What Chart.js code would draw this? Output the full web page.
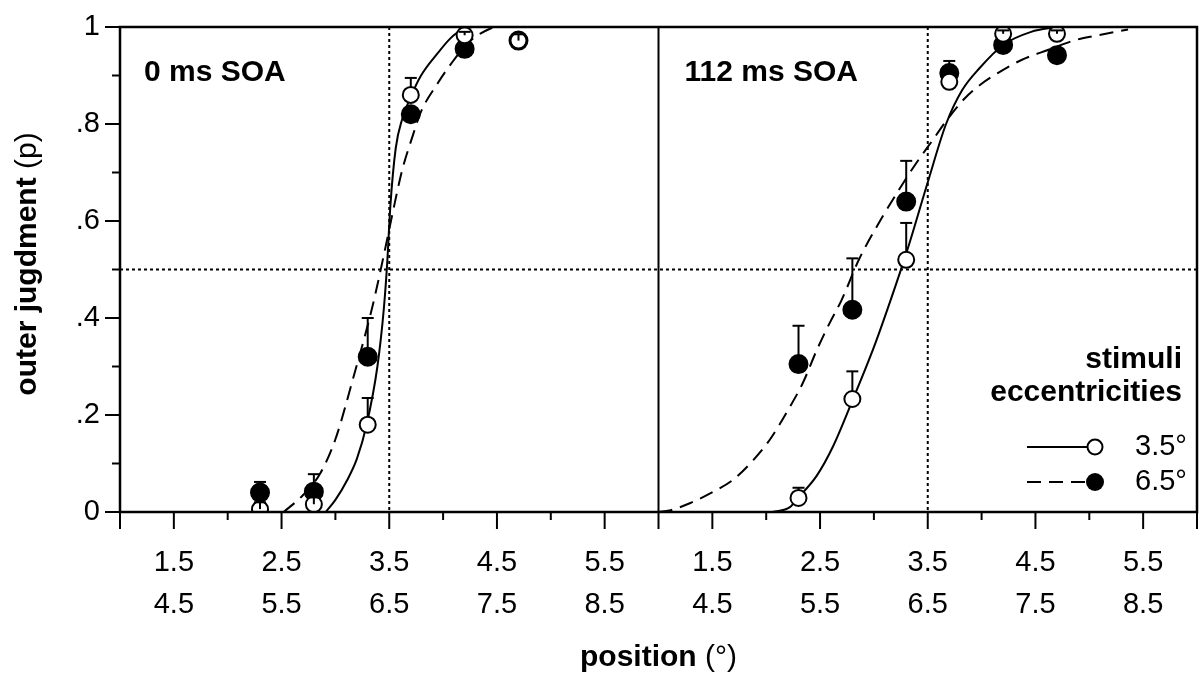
<!DOCTYPE html>
<html>
<head>
<meta charset="utf-8">
<script src="https://cdn.jsdelivr.net/npm/chart.js@4.4.1/dist/chart.umd.min.js"></script>
<style>
html, body { margin: 0; padding: 0; background: #fff; }
#wrap { width: 1199px; height: 674px; }
</style>
</head>
<body>
<div id="wrap"><canvas id="c" width="1199" height="674"></canvas></div>
<script>
var panelTitles = ["0 ms SOA", "112 ms SOA"];
var tickValues = [1.5, 2.5, 3.5, 4.5, 5.5, 6.5, 7.5, 8.5, 9.5, 10.5];
var tickTop = ["1.5", "2.5", "3.5", "4.5", "5.5", "1.5", "2.5", "3.5", "4.5", "5.5"];
var tickBottom = ["4.5", "5.5", "6.5", "7.5", "8.5", "4.5", "5.5", "6.5", "7.5", "8.5"];
var yTickValues = [0, 0.2, 0.4, 0.6, 0.8, 1];
var yTickLabels = ["0", ".2", ".4", ".6", ".8", "1"];
var seriesNames = ["3.5°", "6.5°"];

// positions of the measured points, same for both panels
var positions = [2.3, 2.8, 3.3, 3.7, 4.2, 4.7];
var panelShift = 5; // second panel sits 5 units to the right on the shared axis

// 0 ms SOA
var open0 = [0.006, 0.016, 0.18, 0.86, 0.983, 0.972];
var open0Err = [0.02, 0.03, 0.235, 0.895, 0.99, 0.985];
var filled0 = [0.04, 0.042, 0.32, 0.82, 0.955, 0.972];
var filled0Err = [0.062, 0.078, 0.40, 0.82, 0.955, 0.972];

// 112 ms SOA
var open1 = [0.029, 0.233, 0.52, 0.887, 0.986, 0.986];
var open1Err = [0.05, 0.29, 0.596, 0.887, 0.993, 0.993];
var filled1 = [0.305, 0.417, 0.64, 0.905, 0.963, 0.942];
var filled1Err = [0.384, 0.523, 0.724, 0.93, 0.963, 0.942];

// fitted curves (panel-local positions)
var solid0X = [2.91, 3.0, 3.11, 3.2, 3.29, 3.39, 3.45, 3.48, 3.51, 3.56, 3.62, 3.70, 3.79, 3.95, 4.07, 4.17, 4.27];
var solid0Y = [0, 0.025, 0.066, 0.11, 0.18, 0.30, 0.42, 0.51, 0.63, 0.75, 0.81, 0.856, 0.898, 0.946, 0.977, 0.994, 1.0];
var dash0X = [2.52, 2.7, 2.86, 3.0, 3.17, 3.34, 3.45, 3.53, 3.62, 3.72, 3.79, 3.95, 4.10, 4.23, 4.35, 4.47];
var dash0Y = [0, 0.035, 0.08, 0.15, 0.28, 0.42, 0.53, 0.615, 0.705, 0.777, 0.823, 0.884, 0.932, 0.967, 0.987, 1.0];
var solid1X = [2.06, 2.22, 2.3, 2.47, 2.62, 2.81, 3.0, 3.16, 3.31, 3.5, 3.67, 3.82, 3.98, 4.2, 4.46, 4.7];
var solid1Y = [0, 0.01, 0.03, 0.075, 0.135, 0.235, 0.34, 0.44, 0.54, 0.68, 0.80, 0.87, 0.915, 0.963, 0.99, 1.0];
var dash1X = [1.0, 1.1, 1.29, 1.51, 1.69, 1.88, 2.03, 2.22, 2.34, 2.47, 2.59, 2.70, 2.86, 3.07, 3.22, 3.38, 3.54, 3.69, 3.84, 4.0, 4.15, 4.37, 4.62, 4.87, 5.08, 5.36];
var dash1Y = [0, 0.003, 0.018, 0.042, 0.066, 0.107, 0.148, 0.217, 0.266, 0.334, 0.39, 0.437, 0.52, 0.605, 0.66, 0.715, 0.765, 0.812, 0.852, 0.883, 0.905, 0.932, 0.953, 0.973, 0.983, 0.995];

var guideX = [3.5, 3.5 + panelShift];
var guideY = 0.5;

var FONT = "'Liberation Sans', Arial, sans-serif";

function pts(xs, ys, shift) {
  return xs.map(function (x, i) { return { x: x + shift, y: ys[i] }; });
}

function curve(xs, ys, shift, dashed) {
  return {
    data: pts(xs, ys, shift),
    showLine: true,
    pointRadius: 0,
    borderColor: '#000',
    borderWidth: 2,
    borderDash: dashed ? [14, 8] : [],
    cubicInterpolationMode: 'monotone',
    fill: false
  };
}

function marks(ys, shift, open, err) {
  return {
    data: pts(positions, ys, shift),
    showLine: false,
    pointStyle: 'circle',
    pointRadius: open ? 8 : 9,
    pointBackgroundColor: open ? '#fff' : '#000',
    pointBorderColor: '#000',
    pointBorderWidth: 2,
    errTop: err
  };
}

function textParts(ctx, parts, x, y) {
  var w = 0;
  parts.forEach(function (p) { ctx.font = p[1] + ' 30px ' + FONT; w += ctx.measureText(p[0]).width; });
  var cx = x - w / 2;
  parts.forEach(function (p) {
    ctx.font = p[1] + ' 30px ' + FONT;
    ctx.fillText(p[0], cx, y);
    cx += ctx.measureText(p[0]).width;
  });
}

var extras = {
  id: 'extras',
  afterLayout: function (chart) {
    // stretch the plot to the right edge of the canvas
    var a = chart.chartArea, xs = chart.scales.x;
    var right = chart.width - 2;
    a.right = right;
    a.width = right - a.left;
    xs.right = right;
    xs.width = right - xs.left;
    xs.configure();
  },
  beforeDatasetsDraw: function (chart) {
    var ctx = chart.ctx, a = chart.chartArea, xs = chart.scales.x, ys = chart.scales.y;
    ctx.save();
    ctx.strokeStyle = '#000';
    ctx.lineWidth = 2;
    ctx.setLineDash([3, 3]);
    guideX.forEach(function (v) {
      var px = xs.getPixelForValue(v);
      ctx.beginPath(); ctx.moveTo(px, a.top); ctx.lineTo(px, a.bottom); ctx.stroke();
    });
    var py = ys.getPixelForValue(guideY);
    ctx.beginPath(); ctx.moveTo(a.left, py); ctx.lineTo(a.right, py); ctx.stroke();
    ctx.restore();
  },
  afterDatasetsDraw: function (chart) {
    var ctx = chart.ctx, a = chart.chartArea, xs = chart.scales.x, ys = chart.scales.y;
    ctx.save();
    ctx.strokeStyle = '#000';
    ctx.fillStyle = '#000';
    ctx.lineWidth = 2;
    // error bars
    chart.data.datasets.forEach(function (ds) {
      if (!ds.errTop) return;
      var r = ds.pointRadius;
      ds.data.forEach(function (p, i) {
        var top = ds.errTop[i];
        if (top <= p.y) return;
        var px = xs.getPixelForValue(p.x), pc = ys.getPixelForValue(p.y), pt = ys.getPixelForValue(top);
        var from = (pc - pt > r) ? pc - r : pc;
        ctx.beginPath(); ctx.moveTo(px, from); ctx.lineTo(px, pt); ctx.stroke();
        ctx.beginPath(); ctx.moveTo(px - 6, pt); ctx.lineTo(px + 6, pt); ctx.stroke();
      });
    });
    // frame and panel divider
    ctx.lineWidth = 2.5;
    ctx.strokeRect(a.left, a.top, a.right - a.left, a.bottom - a.top);
    var dv = xs.getPixelForValue(1 + panelShift);
    ctx.lineWidth = 2;
    ctx.beginPath(); ctx.moveTo(dv, a.top); ctx.lineTo(dv, a.bottom); ctx.stroke();
    // x tick marks every half unit
    for (var i = 2; i <= 22; i++) {
      var v = i / 2;
      var long = (i % 2 === 1) || v === 1 || v === 1 + panelShift || v === 11;
      var px = xs.getPixelForValue(v);
      ctx.beginPath(); ctx.moveTo(px, a.bottom); ctx.lineTo(px, a.bottom + (long ? 17 : 8)); ctx.stroke();
    }
    // y tick marks every 0.1
    for (var j = 0; j <= 10; j++) {
      var py = ys.getPixelForValue(j / 10);
      ctx.beginPath(); ctx.moveTo(a.left, py); ctx.lineTo(a.left - (j % 2 === 0 ? 15 : 8), py); ctx.stroke();
    }
    ctx.restore();
  },
  afterDraw: function (chart) {
    var ctx = chart.ctx, a = chart.chartArea, xs = chart.scales.x;
    ctx.save();
    ctx.fillStyle = '#000';
    ctx.strokeStyle = '#000';
    ctx.textBaseline = 'middle';
    // panel titles
    ctx.font = 'bold 30px ' + FONT;
    ctx.textAlign = 'left';
    ctx.fillText(panelTitles[0], xs.getPixelForValue(1) + 24, a.top + 46);
    ctx.fillText(panelTitles[1], xs.getPixelForValue(1 + panelShift) + 26, a.top + 46);
    // axis titles
    ctx.textAlign = 'left';
    textParts(ctx, [['position ', 'bold'], ['(°)', 'normal']], (a.left + a.right) / 2, 658);
    ctx.save();
    ctx.translate(28, 264);
    ctx.rotate(-Math.PI / 2);
    textParts(ctx, [['outer jugdment ', 'bold'], ['(p)', 'normal']], 0, 0);
    ctx.restore();
    // legend
    ctx.font = 'bold 30px ' + FONT;
    ctx.textAlign = 'right';
    ctx.fillText('stimuli', a.right - 15, 360);
    ctx.fillText('eccentricities', a.right - 15, 393);
    ctx.lineWidth = 2;
    ctx.beginPath(); ctx.moveTo(1027, 447); ctx.lineTo(1088, 447); ctx.stroke();
    ctx.setLineDash([14, 8]);
    ctx.beginPath(); ctx.moveTo(1027, 482); ctx.lineTo(1088, 482); ctx.stroke();
    ctx.setLineDash([]);
    ctx.beginPath(); ctx.arc(1095, 447, 7.5, 0, Math.PI * 2); ctx.fillStyle = '#fff'; ctx.fill(); ctx.stroke();
    ctx.fillStyle = '#000';
    ctx.beginPath(); ctx.arc(1095, 482, 9, 0, Math.PI * 2); ctx.fill();
    ctx.font = '29px ' + FONT;
    ctx.textAlign = 'left';
    ctx.fillText(seriesNames[0], 1135, 447);
    ctx.fillText(seriesNames[1], 1135, 482);
    ctx.restore();
  }
};

new Chart(document.getElementById('c'), {
  type: 'scatter',
  data: {
    datasets: [
      marks(open0, 0, true, open0Err),
      marks(open1, panelShift, true, open1Err),
      marks(filled0, 0, false, filled0Err),
      marks(filled1, panelShift, false, filled1Err),
      curve(solid0X, solid0Y, 0, false),
      curve(dash0X, dash0Y, 0, true),
      curve(solid1X, solid1Y, panelShift, false),
      curve(dash1X, dash1Y, panelShift, true)
    ]
  },
  options: {
    responsive: false,
    animation: false,
    events: [],
    layout: { padding: { top: 27, right: 2, left: 0, bottom: 0 } },
    plugins: { legend: { display: false }, tooltip: { enabled: false } },
    scales: {
      x: {
        type: 'linear',
        min: 1,
        max: 11,
        afterBuildTicks: function (s) { s.ticks = tickValues.map(function (v) { return { value: v }; }); },
        afterFit: function (s) { s.height = 162; s.paddingLeft = 0; s.paddingRight = 0; },
        grid: { display: false, drawTicks: false },
        border: { display: false },
        ticks: {
          autoSkip: false,
          maxRotation: 0,
          padding: 30,
          color: '#000',
          font: { family: FONT, size: 29, lineHeight: 1.45 },
          callback: function (v, i) { return [tickTop[i], tickBottom[i]]; }
        }
      },
      y: {
        min: 0,
        max: 1,
        afterBuildTicks: function (s) { s.ticks = yTickValues.map(function (v) { return { value: v }; }); },
        afterFit: function (s) { s.width = 120; s.paddingTop = 0; s.paddingBottom = 0; },
        grid: { display: false, drawTicks: false },
        border: { display: false },
        ticks: {
          padding: 20,
          color: '#000',
          font: { family: FONT, size: 29 },
          callback: function (v, i) { return yTickLabels[i]; }
        }
      }
    }
  },
  plugins: [extras]
});
</script>
</body>
</html>
